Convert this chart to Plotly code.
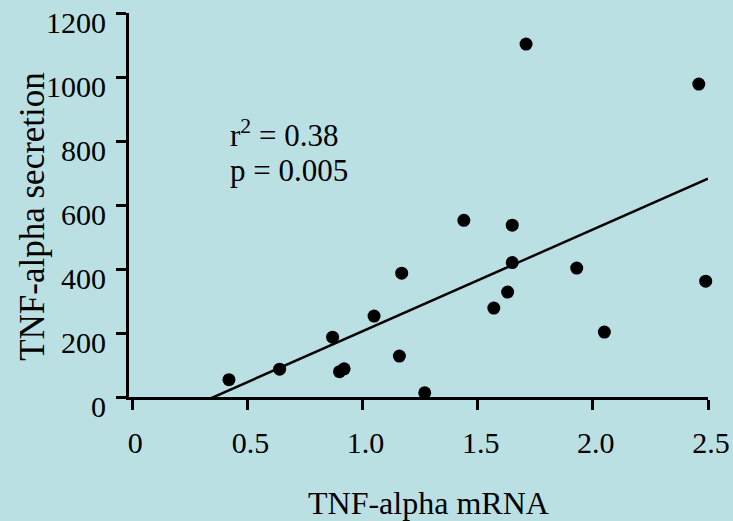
import numpy as np
import plotly.graph_objects as go

# TNF-alpha mRNA (x) vs TNF-alpha secretion (y), one point per sample
mrna = [0.42, 0.64, 0.87, 0.90, 0.92, 1.05, 1.17, 1.16, 1.27, 1.44,
        1.65, 1.65, 1.63, 1.57, 1.93, 2.05, 2.49, 1.71, 2.46]
secretion = [54, 87, 187, 79, 88, 253, 387, 128, 13, 552,
             537, 420, 328, 278, 403, 203, 362, 1103, 978]

x_ticks = [0, 0.5, 1.0, 1.5, 2.0, 2.5]
x_tick_text = ["0", "0.5", "1.0", "1.5", "2.0", "2.5"]
y_ticks = [0, 200, 400, 600, 800, 1000, 1200]

stats_lines = ["r<sup>2</sup> = 0.38", "p = 0.005"]

# least-squares regression line
slope, intercept = np.polyfit(mrna, secretion, 1)
fit_x = np.array([0.0, 2.5])
fit_y = slope * fit_x + intercept

BG = "rgb(187,224,227)"
FONT = "Liberation Serif, Times New Roman, serif"

fig = go.Figure()
fig.add_trace(go.Scatter(
    x=fit_x, y=fit_y, mode="lines",
    line=dict(color="black", width=2.5),
    hoverinfo="skip", showlegend=False,
))
fig.add_trace(go.Scatter(
    x=mrna, y=secretion, mode="markers",
    marker=dict(color="black", size=13, line=dict(width=0)),
    cliponaxis=False, showlegend=False,
))

fig.update_layout(
    template="none",
    width=733, height=521,
    margin=dict(l=128.5, r=25.3, t=12.7, b=124.3, pad=0),
    paper_bgcolor=BG, plot_bgcolor=BG,
    font=dict(family=FONT, color="black", size=30),
    xaxis=dict(
        range=[-0.014, 2.5], tickvals=x_ticks, ticktext=x_tick_text,
        automargin=False,
        showgrid=False, zeroline=False,
        showline=True, linecolor="black", linewidth=3,
        ticks="outside", ticklen=10, tickwidth=2.5, tickcolor="black",
        ticklabelstandoff=7, ticklabelshift=3,
        ticklabeloverflow="allow",
        tickfont=dict(family=FONT, size=30, color="black"),
    ),
    yaxis=dict(
        range=[0, 1200], tickvals=y_ticks,
        automargin=False,
        showgrid=False, zeroline=False,
        showline=True, linecolor="black", linewidth=3,
        ticks="outside", ticklen=10, tickwidth=2.5, tickcolor="black",
        ticklabelstandoff=4, ticklabelshift=9,
        ticklabeloverflow="allow",
        tickfont=dict(family=FONT, size=30, color="black"),
    ),
    annotations=[
        dict(text="TNF-alpha mRNA", xref="paper", yref="paper",
             x=0.5176, y=-0.2755, xanchor="center", yanchor="middle",
             showarrow=False, font=dict(family=FONT, size=32, color="black")),
        dict(text="TNF-alpha secretion", xref="paper", yref="paper",
             x=-0.1666, y=0.4706, xanchor="center", yanchor="middle",
             textangle=-90, showarrow=False,
             font=dict(family=FONT, size=35, color="black")),
        dict(text=stats_lines[0], xref="x", yref="y",
             x=0.418, y=825, xanchor="left", yanchor="middle",
             showarrow=False, font=dict(family=FONT, size=31, color="black")),
        dict(text=stats_lines[1], xref="x", yref="y",
             x=0.418, y=707, xanchor="left", yanchor="middle",
             showarrow=False, font=dict(family=FONT, size=31, color="black")),
    ],
)

fig.write_html("out.html")
